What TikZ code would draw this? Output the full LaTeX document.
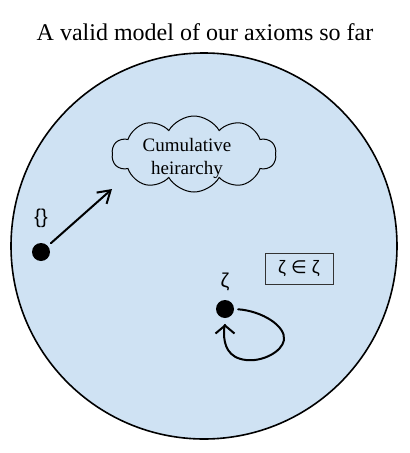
\documentclass[tikz,border=0pt]{standalone}
\usepackage{fontspec}
\setmainfont{Liberation Serif}
\newfontfamily\sansf{Liberation Sans}
\newfontfamily\dejavu{DejaVu Sans}
\usetikzlibrary{shapes.symbols,arrows.meta}
\definecolor{bluefill}{HTML}{CFE2F3}
\definecolor{boxline}{HTML}{333333}
\begin{document}
\begin{tikzpicture}[x=1pt,y=-1pt,
  titletext/.style={font=\fontsize{24}{28}\selectfont, inner sep=0pt},
  universe/.style={circle, draw=black, line width=1.6pt, fill=bluefill, minimum size=386pt, inner sep=0pt},
  cloudnode/.style={cloud, draw=black, line width=1pt, fill=bluefill, cloud puffs=10, cloud puff arc=120, aspect=2.1, minimum width=164pt, minimum height=76pt, inner sep=0pt},
  cloudtext/.style={font=\fontsize{19}{23}\selectfont, align=center, inner sep=0pt},
  element/.style={circle, fill=black, minimum size=18pt, inner sep=0pt},
  elemlabel/.style={font=\sansf\fontsize{20}{24}\selectfont, inner sep=0pt},
  factbox/.style={draw=boxline, line width=0.9pt, minimum width=68pt, minimum height=31pt, inner sep=0pt, font=\sansf\fontsize{18}{22}\selectfont},
  handarrow/.style={line width=2pt, line cap=round, line join=round}
]
\useasboundingbox (0,0) rectangle (410,453);
\node[titletext] (title) at (205,32) {A valid model of our axioms so far};
\node[universe] (uni) at (204,246) {};
\node[cloudnode] (cloud) at (194,154) {};
\node[cloudtext] (cloudlbl) at (187,158) {Cumulative\\heirarchy};
\node[element] (empty) at (41,252) {};
\node[elemlabel] (emptylbl) at (41,218) {\{\}};
\coordinate (cloudtip) at (112,189);
\draw[handarrow, -{Straight Barb[length=12pt,width=15pt,line width=2pt]}, shorten <=4pt] (empty) -- (cloudtip);
\node[element] (zeta) at (225,309) {};
\node[elemlabel] (zetalbl) at (225,282) {ζ};
\node[factbox] (fact) at (299,268.5) {ζ {\dejavu ∈} ζ};
\draw[handarrow, -{Straight Barb[length=8pt,width=19pt,line width=2pt]}, shorten <=4pt, shorten >=6pt]
  (zeta.east) .. controls (262,311) and (286,326) .. (284,340)
  .. controls (282,352) and (262,362) .. (246,360)
  .. controls (228,358) and (224,345) .. (224,333)
  .. controls (224,328) and (225,322) .. (zeta.south);
\end{tikzpicture}
\end{document}
